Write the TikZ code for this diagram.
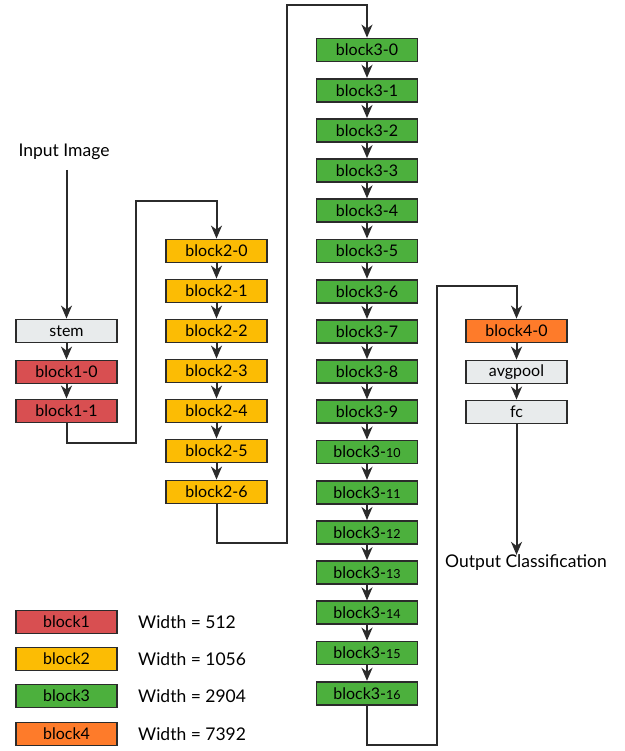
\documentclass[tikz,border=0pt]{standalone}
\usepackage{fontspec}
\setmainfont{Lato}
\usetikzlibrary{arrows.meta}
\definecolor{cred}{HTML}{D84F51}
\definecolor{cyel}{HTML}{FCBC04}
\definecolor{cgrn}{HTML}{4CB03D}
\definecolor{corg}{HTML}{FE7B2A}
\definecolor{cgry}{HTML}{E8EBEC}
\definecolor{cline}{HTML}{2B2B2B}
\newcommand{\sm}[1]{{\fontsize{12.5}{14}\selectfont #1}}
\begin{document}
\begin{tikzpicture}[x=1pt,y=-1pt,
  blk/.style={draw=cline,line width=1.8pt,minimum width=101pt,minimum height=23pt,inner sep=0pt,font=\fontsize{16}{18}\selectfont},
  lbl/.style={font=\fontsize{17.5}{20}\selectfont,inner sep=0pt},
  conn/.style={draw=cline,line width=2pt},
  arr/.style={conn,-{Stealth[length=13pt,width=11pt,inset=4pt]}}]
\useasboundingbox (0,0) rectangle (624,751);
% column 1
\node[lbl] (in) at (64,152) {Input Image};
\node[blk,fill=cgry] (stem) at (66.5,331) {stem};
\node[blk,fill=cred] (b10) at (66.5,372) {block1-0};
\node[blk,fill=cred] (b11) at (66.5,411) {block1-1};
% column 2
\foreach \i/\y in {0/251,1/291,2/331,3/371,4/411,5/451,6/492}
  \node[blk,fill=cyel] (b2\i) at (216.5,\y) {block2-\i};
% column 3
\foreach \i in {0,...,9}
  \node[blk,fill=cgrn] (b3\i) at (367,{50+40.2*\i}) {block3-\i};
\foreach \i in {10,...,16}
  \node[blk,fill=cgrn] (b3\i) at (367,{50+40.2*\i}) {block3-\sm{\i}};
% column 4
\node[blk,fill=corg] (b40) at (516.5,331) {block4-0};
\node[blk,fill=cgry] (avg) at (516.5,372) {avgpool};
\node[blk,fill=cgry] (fc) at (516.5,412) {fc};
\node[lbl] (out) at (526,563) {Output Classification};
% connectors
\coordinate (ins) at (66.5,170);
\draw[arr] (ins) -- (stem.north);
\draw[arr] (stem) -- (b10);
\draw[arr] (b10) -- (b11);
\coordinate (c1) at (66.5,443);
\coordinate (c2) at (136,443);
\coordinate (c3) at (136,201);
\coordinate (c4) at (216.5,201);
\draw[arr] (b11.south) -- (c1) -- (c2) -- (c3) -- (c4) -- (b20.north);
\foreach \a/\b in {0/1,1/2,2/3,3/4,4/5,5/6}
  \draw[arr] (b2\a) -- (b2\b);
\coordinate (d1) at (216.5,543);
\coordinate (d2) at (287,543);
\coordinate (d3) at (287,5);
\coordinate (d4) at (367,5);
\draw[arr] (b26.south) -- (d1) -- (d2) -- (d3) -- (d4) -- (b30.north);
\foreach \a in {0,...,15}{
  \pgfmathtruncatemacro{\b}{\a+1}
  \draw[arr] (b3\a) -- (b3\b);
}
\coordinate (e1) at (367,745);
\coordinate (e2) at (437,745);
\coordinate (e3) at (437,286);
\coordinate (e4) at (516.5,286);
\draw[arr] (b316.south) -- (e1) -- (e2) -- (e3) -- (e4) -- (b40.north);
\draw[arr] (b40) -- (avg);
\draw[arr] (avg) -- (fc);
\draw[arr] (fc.south) -- (out.north -| fc.south);
% legend
\node[blk,fill=cred] (l1) at (66.5,622) {block1};
\node[blk,fill=cyel] (l2) at (66.5,659) {block2};
\node[blk,fill=cgrn] (l3) at (66.5,696) {block3};
\node[blk,fill=corg] (l4) at (66.5,734) {block4};
\node[lbl,anchor=west] (w1) at (138,622) {Width = 512};
\node[lbl,anchor=west] (w2) at (138,659) {Width = 1056};
\node[lbl,anchor=west] (w3) at (138,696) {Width = 2904};
\node[lbl,anchor=west] (w4) at (138,734) {Width = 7392};
\end{tikzpicture}
\end{document}
